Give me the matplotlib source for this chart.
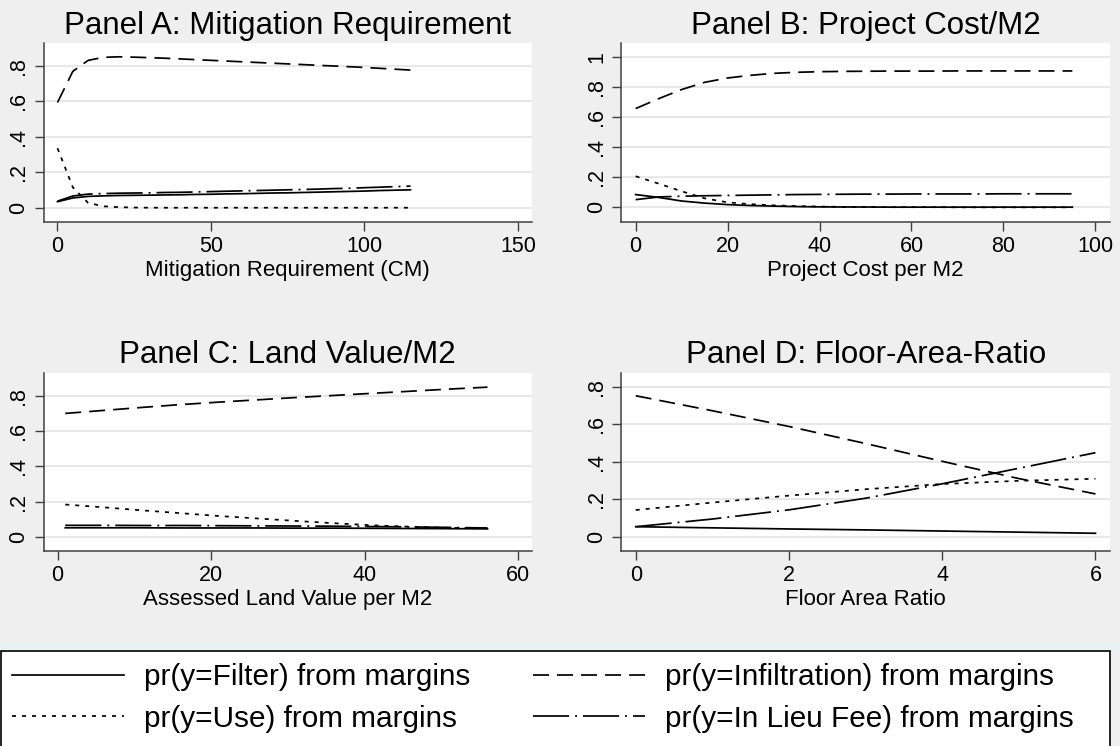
import matplotlib
matplotlib.use("Agg")
import matplotlib.pyplot as plt
from matplotlib.patches import Rectangle
from matplotlib.ticker import FuncFormatter

plt.rcParams['font.family'] = ['Liberation Sans', 'DejaVu Sans']
plt.rcParams['lines.scale_dashes'] = False

# ---- data ----
# Panel A: mitigation requirement (CM)
mit_x = [0, 5, 10, 15, 20, 25, 30, 35, 40, 45, 50, 55, 60, 65, 70, 75, 80, 85, 90, 95, 100, 105, 110, 115]
mit_filter = [0.034, 0.055, 0.064, 0.067, 0.069, 0.070, 0.071, 0.072, 0.073, 0.075, 0.076, 0.078,
              0.079, 0.081, 0.083, 0.084, 0.086, 0.088, 0.090, 0.092, 0.094, 0.097, 0.099, 0.101]
mit_infil = [0.594, 0.770, 0.832, 0.849, 0.852, 0.850, 0.847, 0.844, 0.840, 0.836, 0.832, 0.828,
             0.824, 0.820, 0.816, 0.812, 0.808, 0.804, 0.800, 0.796, 0.792, 0.787, 0.782, 0.777]
mit_use = [0.336, 0.115, 0.027, 0.008, 0.003, 0.001, 0.0, 0.0, 0.0, 0.0, 0.0, 0.0,
           0.0, 0.0, 0.0, 0.0, 0.0, 0.0, 0.0, 0.0, 0.0, 0.0, 0.0, 0.0]
mit_lieu = [0.037, 0.066, 0.077, 0.080, 0.082, 0.083, 0.084, 0.086, 0.087, 0.089, 0.091, 0.093,
            0.095, 0.097, 0.099, 0.101, 0.103, 0.105, 0.108, 0.110, 0.113, 0.116, 0.119, 0.122]

# Panel B: project cost per M2
cost_x = [0, 5, 10, 15, 20, 25, 30, 35, 40, 45, 50, 55, 60, 65, 70, 75, 80, 85, 90, 95]
cost_filter = [0.085, 0.066, 0.042, 0.028, 0.018, 0.012, 0.008, 0.005, 0.003, 0.002,
               0.002, 0.001, 0.001, 0.001, 0.001, 0.001, 0.001, 0.001, 0.001, 0.001]
cost_infil = [0.658, 0.724, 0.785, 0.833, 0.862, 0.880, 0.893, 0.900, 0.904, 0.906,
              0.907, 0.908, 0.908, 0.908, 0.909, 0.909, 0.909, 0.909, 0.909, 0.909]
cost_use = [0.207, 0.158, 0.107, 0.060, 0.033, 0.021, 0.013, 0.008, 0.005, 0.003,
            0.002, 0.001, 0.001, 0.001, 0.0, 0.0, 0.0, 0.0, 0.0, 0.0]
cost_lieu = [0.051, 0.069, 0.074, 0.077, 0.079, 0.081, 0.083, 0.085, 0.086, 0.087,
             0.088, 0.088, 0.089, 0.089, 0.089, 0.089, 0.090, 0.090, 0.090, 0.090]

# Panel C: assessed land value per M2
land_x = [1, 6, 11, 16, 21, 26, 31, 36, 41, 46, 51, 56]
land_filter = [0.051, 0.051, 0.051, 0.050, 0.050, 0.050, 0.049, 0.049, 0.048, 0.047, 0.046, 0.045]
land_infil = [0.700, 0.717, 0.734, 0.750, 0.764, 0.777, 0.790, 0.802, 0.814, 0.826, 0.838, 0.849]
land_use = [0.183, 0.167, 0.150, 0.134, 0.118, 0.104, 0.090, 0.077, 0.065, 0.057, 0.051, 0.047]
land_lieu = [0.065, 0.065, 0.064, 0.064, 0.063, 0.062, 0.061, 0.060, 0.058, 0.056, 0.053, 0.050]

# Panel D: floor area ratio
far_x = [0, 1, 2, 3, 4, 5, 6]
far_filter = [0.053, 0.047, 0.041, 0.036, 0.030, 0.024, 0.018]
far_infil = [0.752, 0.672, 0.588, 0.497, 0.402, 0.310, 0.228]
far_use = [0.142, 0.182, 0.219, 0.253, 0.281, 0.298, 0.309]
far_lieu = [0.053, 0.094, 0.143, 0.205, 0.282, 0.365, 0.448]

labels = ['pr(y=Filter) from margins', 'pr(y=Infiltration) from margins',
          'pr(y=Use) from margins', 'pr(y=In Lieu Fee) from margins']

panels = [
    ("Panel A: Mitigation Requirement", "Mitigation Requirement (CM)", mit_x,
     [mit_filter, mit_infil, mit_use, mit_lieu], [0, 50, 100, 150], [0, .2, .4, .6, .8],
     (-4.5, 154.6), (-0.079, 0.928)),
    ("Panel B: Project Cost/M2", "Project Cost per M2", cost_x,
     [cost_filter, cost_infil, cost_use, cost_lieu], [0, 20, 40, 60, 80, 100], [0, .2, .4, .6, .8, 1],
     (-3.1, 103.2), (-0.096, 1.093)),
    ("Panel C: Land Value/M2", "Assessed Land Value per M2", land_x,
     [land_filter, land_infil, land_use, land_lieu], [0, 20, 40, 60], [0, .2, .4, .6, .8],
     (-1.81, 61.8), (-0.079, 0.931)),
    ("Panel D: Floor-Area-Ratio", "Floor Area Ratio", far_x,
     [far_filter, far_infil, far_use, far_lieu], [0, 2, 4, 6], [0, .2, .4, .6, .8],
     (-0.187, 6.19), (-0.075, 0.875)),
]

# line styles: solid, long dash, short dash, long dash-dot (in points)
styles = [
    dict(linestyle='-'),
    dict(linestyle=(0, (11.5, 5.8))),
    dict(linestyle=(0, (2.9, 4.3))),
    dict(linestyle=(0, (26, 4.3, 1.4, 4.3))),
]


def stata_fmt(v, pos):
    if abs(v) < 1e-9:
        return '0'
    if abs(v - round(v)) < 1e-9:
        return str(int(round(v)))
    return ('%g' % v).lstrip('0')


bg = '#EFEFEF'
fig = plt.figure(figsize=(11.2, 7.46), dpi=100, facecolor=bg)

positions = [
    [0.0390, 0.7028, 0.4360, 0.2391],
    [0.5548, 0.7028, 0.4363, 0.2391],
    [0.0390, 0.2618, 0.4360, 0.2386],
    [0.5548, 0.2618, 0.4363, 0.2386],
]

handles = None
for pos, (title, xlabel, x, series, xt, yt, xl, yl) in zip(positions, panels):
    ax = fig.add_axes(pos)
    ax.set_facecolor('white')
    lines = []
    for ys, st in zip(series, styles):
        ln, = ax.plot(x, ys, color='black', lw=1.25, **st)
        lines.append(ln)
    if handles is None:
        handles = lines
    ax.set_xlim(*xl)
    ax.set_ylim(*yl)
    ax.set_xticks(xt)
    ax.set_yticks(yt)
    ax.yaxis.set_major_formatter(FuncFormatter(stata_fmt))
    ax.grid(axis='y', color='#E6E6E6', lw=1.3)
    ax.set_axisbelow(True)
    for s in ['top', 'right']:
        ax.spines[s].set_visible(False)
    for s in ['left', 'bottom']:
        ax.spines[s].set_color('#404040')
        ax.spines[s].set_linewidth(1.1)
    ax.tick_params(length=6.3, width=1.0, color='#404040', labelsize=15.5, pad=4)
    for t in ax.get_yticklabels():
        t.set_rotation(90)
        t.set_va('center')
    ax.set_title(title, fontsize=22.5, pad=7)
    ax.set_xlabel(xlabel, fontsize=16, labelpad=2)

# thin band and legend box at the bottom
fig.add_artist(Rectangle((0, 1 - 651 / 746), 1, 9 / 746, transform=fig.transFigure,
                         facecolor='#E9F1F2', edgecolor='none', zorder=0))
fig.add_artist(Rectangle((0.0008, -0.01), 1109 / 1120, 0.01 + (1 - 650.7 / 746),
                         transform=fig.transFigure, facecolor='white', edgecolor='black',
                         lw=1.2, zorder=1))

order = [0, 2, 1, 3]
fig.legend([handles[i] for i in order], [labels[i] for i in order], ncol=2,
           loc='upper left', bbox_to_anchor=(0.011, 0.111), frameon=False,
           fontsize=21.4, handlelength=3.77, handletextpad=0.67, columnspacing=2.1,
           labelspacing=0.46, borderpad=0, borderaxespad=0)

fig.savefig('out.png', dpi=100, facecolor=fig.get_facecolor())
